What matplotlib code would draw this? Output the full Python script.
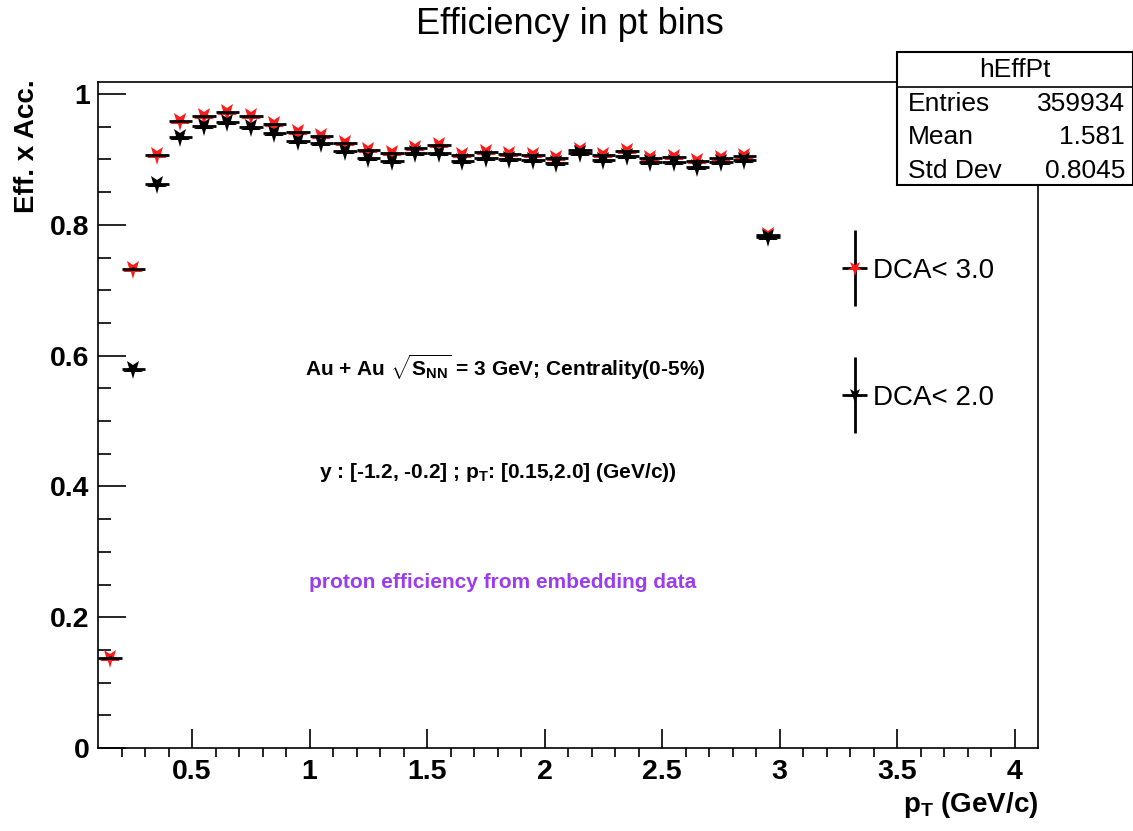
import numpy as np
import matplotlib
matplotlib.use('Agg')
import matplotlib.pyplot as plt
from matplotlib.markers import MarkerStyle
from matplotlib.transforms import Affine2D
from matplotlib.legend_handler import HandlerErrorbar
from matplotlib.container import ErrorbarContainer
from matplotlib.patches import Rectangle
from matplotlib.lines import Line2D

plt.rcParams['font.family'] = ['Liberation Sans', 'DejaVu Sans']
plt.rcParams['mathtext.fontset'] = 'custom'
plt.rcParams['mathtext.rm'] = 'Liberation Sans'
plt.rcParams['mathtext.bf'] = 'Liberation Sans:bold'

# bin centres (0.1 GeV/c bins)
pt = [0.15, 0.25, 0.35, 0.45, 0.55, 0.65, 0.75, 0.85, 0.95, 1.05,
      1.15, 1.25, 1.35, 1.45, 1.55, 1.65, 1.75, 1.85, 1.95, 2.05,
      2.15, 2.25, 2.35, 2.45, 2.55, 2.65, 2.75, 2.85, 2.95]
eff_dca3 = [0.138, 0.733, 0.907, 0.959, 0.966, 0.972, 0.966, 0.954, 0.942, 0.936,
            0.925, 0.915, 0.910, 0.918, 0.922, 0.907, 0.912, 0.908, 0.907, 0.903,
            0.915, 0.907, 0.913, 0.903, 0.904, 0.898, 0.903, 0.905, 0.785]
eff_dca2 = [np.nan, 0.579, 0.862, 0.934, 0.951, 0.957, 0.949, 0.941, 0.929, 0.925,
            0.913, 0.903, 0.898, 0.910, 0.910, 0.898, 0.903, 0.901, 0.899, 0.895,
            0.910, 0.899, 0.905, 0.896, 0.896, 0.889, 0.896, 0.899, 0.782]
bin_half = 0.05

stats_name = 'hEffPt'
stats_rows = [('Entries', '359934'), ('Mean', '1.581'), ('Std Dev', '0.8045')]

W, H = 1133, 831
fig = plt.figure(figsize=(W / 100, H / 100), dpi=100)
ax = fig.add_axes([98 / W, 1 - 748 / H, 940 / W, 666 / H])

star = MarkerStyle('*', transform=Affine2D().rotate_deg(180))

h3 = ax.errorbar(pt, eff_dca3, xerr=bin_half, yerr=0.002, linestyle='none', marker=star,
                 markersize=15, color='#ff1a1a', markeredgewidth=0, ecolor='black',
                 elinewidth=2, capsize=0, zorder=3)
h2 = ax.errorbar(pt, eff_dca2, xerr=bin_half, yerr=0.002, linestyle='none', marker=star,
                 markersize=15, color='black', markeredgewidth=0, ecolor='black',
                 elinewidth=2, capsize=0, zorder=5)
# ROOT draws the error bars over the markers
for h, z in [(h3, 3.5), (h2, 5.5)]:
    for bc in h[2]:
        bc.set_zorder(z)

ax.set_xlim(0.1, 4.1)
ax.set_ylim(0, 1.0185)
ax.set_xticks([0.5, 1, 1.5, 2, 2.5, 3, 3.5, 4])
ax.set_xticklabels(['0.5', '1', '1.5', '2', '2.5', '3', '3.5', '4'])
ax.set_xticks(np.arange(0.2, 4.1, 0.1), minor=True)
ax.set_yticks([0, 0.2, 0.4, 0.6, 0.8, 1])
ax.set_yticklabels(['0', '0.2', '0.4', '0.6', '0.8', '1'])
ax.set_yticks(np.arange(0.05, 1.01, 0.05), minor=True)
ax.tick_params(axis='both', direction='in', width=1.2, labelsize=20.5)
ax.tick_params(axis='x', which='major', length=14, pad=8)
ax.tick_params(axis='x', which='minor', length=6.5, width=1.2)
ax.tick_params(axis='y', which='major', length=20, pad=6)
ax.tick_params(axis='y', which='minor', length=9.5, width=1.2, direction='in')
for lab in ax.get_xticklabels() + ax.get_yticklabels():
    lab.set_fontweight('bold')
for s in ax.spines.values():
    s.set_linewidth(1.2)

fig.text(0.503, 1 - 25 / H, 'Efficiency in pt bins', ha='center', va='center', fontsize=26)
fig.text(27 / W, 1 - 79 / H, 'Eff. x Acc.', rotation=90, ha='center', va='top',
         fontsize=20, fontweight='bold')
fig.text(1038 / W, 1 - 805 / H, r'p$_{\mathbf{T}}$ (GeV/c)', ha='right', va='center',
         fontsize=20, fontweight='bold')

ax.text(0.433, 0.572, r'Au + Au $\sqrt{\mathbf{S}_{\mathbf{NN}}}$ = 3 GeV; Centrality(0-5%)',
        transform=ax.transAxes, ha='center', va='center', fontsize=15, fontweight='bold')
ax.text(0.4255, 0.414, r'y : [-1.2, -0.2] ; p$_{\mathbf{T}}$: [0.15,2.0] (GeV/c))',
        transform=ax.transAxes, ha='center', va='center', fontsize=15, fontweight='bold')
ax.text(0.43, 0.248, 'proton efficiency from embedding data', transform=ax.transAxes,
        ha='center', va='center', fontsize=15, fontweight='bold', color='#9b3cf0')

# legend with ROOT-like error-bar entries
leg = ax.legend([h3, h2], ['DCA< 3.0', 'DCA< 2.0'],
                handler_map={ErrorbarContainer: HandlerErrorbar(xerr_size=0.45, yerr_size=1.37)},
                loc='center left', bbox_to_anchor=(841 / W, 1 - 334.5 / H),
                bbox_transform=fig.transFigure, frameon=False, fontsize=20,
                handlelength=1.0, handleheight=0.7, labelspacing=3.64, markerscale=0.75,
                handletextpad=0.15, borderpad=0, borderaxespad=0)

# stats box
box = Rectangle((897 / W, 1 - 185 / H), 236 / W, 133 / H, transform=fig.transFigure,
                facecolor='white', edgecolor='black', linewidth=1.5, zorder=10)
fig.patches.append(box)
fig.add_artist(Line2D([897 / W, 1], [1 - 87 / H] * 2, color='black', lw=1.2, zorder=11))
fig.text(1015 / W, 1 - 70 / H, stats_name, ha='center', va='center', fontsize=19, zorder=12)
for i, (k, v) in enumerate(stats_rows):
    yy = 1 - (104 + 33.5 * i) / H
    fig.text(908 / W, yy, k, ha='left', va='center', fontsize=19, zorder=12)
    fig.text(1125 / W, yy, v, ha='right', va='center', fontsize=19, zorder=12)

fig.savefig('out.png', dpi=100)
